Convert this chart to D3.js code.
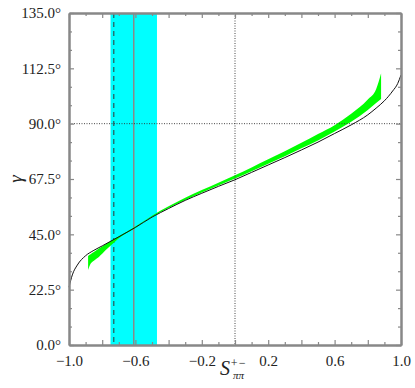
<!DOCTYPE html>
<html lang="en">
<head>
    <meta charset="UTF-8">
    <title>gamma vs S</title>
    <style>
        body { margin: 0; background: #fff; }
        svg text { font-family: "Liberation Serif", serif; fill: #222; }
        .axis path, .axis line { stroke: #888; }
        .axis path { stroke-width: 2; }
        .axis line { stroke-width: 1.2; }
    </style>
</head>
<body>
    <svg id="chart" width="415" height="388"></svg>

    <script src="https://cdn.jsdelivr.net/npm/d3@7"></script>
    <script>
        // theory curve gamma(S)
        var curveS = [-1, -0.98, -0.95, -0.9, -0.85, -0.8, -0.7, -0.6, -0.5, -0.4, -0.3, -0.2, -0.1, 0,
            0.1, 0.2, 0.3, 0.4, 0.5, 0.6, 0.7, 0.8, 0.85, 0.9, 0.95, 0.98, 1.0];
        var curveGamma = [23.5, 28.5, 32.5, 36.3, 38.5, 40.3, 44.0, 47.8, 52.0, 55.5, 58.8, 61.7, 64.5, 67.2,
            70.2, 73.2, 76.2, 79.3, 82.5, 86.0, 89.5, 93.6, 96.3, 99.3, 103.3, 106.3, 109.8];

        // green allowed region (lower / upper edge)
        var bandS = [-0.885, -0.87, -0.85, -0.82, -0.78, -0.74, -0.7, -0.6, -0.5, -0.4, -0.3, -0.2, -0.1, 0,
            0.1, 0.2, 0.3, 0.4, 0.5, 0.6, 0.7, 0.8, 0.85, 0.88];
        var bandLow = [30.5, 33.0, 34.3, 35.8, 38.5, 41.0, 43.4, 47.7, 52.1, 55.7, 59.0, 62.0, 64.9, 67.7,
            70.7, 73.7, 76.8, 80.0, 83.2, 86.8, 90.8, 95.6, 98.4, 100.0];
        var bandHigh = [36.2, 36.9, 37.8, 39.2, 41.0, 42.6, 44.2, 48.2, 52.6, 56.4, 59.9, 63.0, 66.0, 69.0,
            72.2, 75.5, 78.8, 82.2, 85.8, 89.4, 94.0, 99.8, 104.0, 110.5];

        // measurement: central value, 1 sigma range, other value
        var measCentral = -0.61;
        var measRange = [-0.75, -0.47];
        var measDashed = -0.73;

        var xMajor = [-1, -0.8, -0.6, -0.4, -0.2, 0, 0.2, 0.4, 0.6, 0.8, 1];
        var xMinor = [-0.9, -0.7, -0.5, -0.3, -0.1, 0.1, 0.3, 0.5, 0.7, 0.9];
        var xLabels = [-1, -0.6, -0.2, 0.2, 0.6, 1];
        var yMajor = [0, 22.5, 45, 67.5, 90, 112.5, 135];
        var yMinor = [7.5, 15, 30, 37.5, 52.5, 60, 75, 82.5, 97.5, 105, 120, 127.5];

        var margin = { top: 13, left: 69 },
            width = 332,
            height = 332;

        var svg = d3.select("#chart")
            .append("g")
            .attr("transform", "translate(" + margin.left + "," + margin.top + ")");

        var x = d3.scaleLinear().domain([-1, 1]).range([0, width]);
        var y = d3.scaleLinear().domain([0, 135]).range([height, 0]);

        // cyan 1 sigma band
        svg.append("rect")
            .attr("x", x(measRange[0]))
            .attr("y", 0)
            .attr("width", x(measRange[1]) - x(measRange[0]))
            .attr("height", height)
            .attr("fill", "#00ffff");

        svg.append("line")
            .attr("x1", x(measCentral)).attr("x2", x(measCentral))
            .attr("y1", 0).attr("y2", height)
            .attr("stroke", "#8a8a8a")
            .attr("stroke-width", 1.5);

        svg.append("line")
            .attr("x1", x(measDashed)).attr("x2", x(measDashed))
            .attr("y1", 0).attr("y2", height)
            .attr("stroke", "#333")
            .attr("stroke-width", 1)
            .attr("stroke-dasharray", "5,4");

        // green region
        var bandData = bandS.map((s, i) => [s, bandLow[i], bandHigh[i]]);
        svg.append("path")
            .datum(bandData)
            .attr("fill", "#00ff00")
            .attr("d", d3.area()
                .x(d => x(d[0]))
                .y0(d => y(d[1]))
                .y1(d => y(d[2]))
                .curve(d3.curveMonotoneX));

        // black curve
        var curveData = curveS.map((s, i) => [s, curveGamma[i]]);
        svg.append("path")
            .datum(curveData)
            .attr("fill", "none")
            .attr("stroke", "#111")
            .attr("stroke-width", 1)
            .attr("d", d3.line()
                .x(d => x(d[0]))
                .y(d => y(d[1]))
                .curve(d3.curveMonotoneX));

        // dotted guide lines
        svg.append("line")
            .attr("x1", 0).attr("x2", width)
            .attr("y1", y(90)).attr("y2", y(90))
            .attr("stroke", "#333").attr("stroke-width", 0.9)
            .attr("stroke-dasharray", "1,1.5");
        svg.append("line")
            .attr("x1", x(0)).attr("x2", x(0))
            .attr("y1", 0).attr("y2", height)
            .attr("stroke", "#333").attr("stroke-width", 0.9)
            .attr("stroke-dasharray", "1,1.5");

        // axes (ticks point inward)
        var fmtX = d => xLabels.some(v => Math.abs(v - d) < 1e-6) ? d3.format(".1f")(d) : "";
        var fmtY = d => d3.format(".1f")(d) + "\u00b0";

        function addAxis(axis, tr) {
            var g = svg.append("g").attr("class", "axis");
            if (tr) g.attr("transform", tr);
            g.call(axis);
            return g;
        }

        var bottom = addAxis(d3.axisBottom(x).tickValues(xMajor).tickSize(-5).tickSizeOuter(0).tickPadding(10).tickFormat(fmtX),
            "translate(0," + height + ")");
        addAxis(d3.axisBottom(x).tickValues(xMinor).tickSize(-3).tickSizeOuter(0).tickFormat(""), "translate(0," + height + ")");
        addAxis(d3.axisTop(x).tickValues(xMajor).tickSize(-5).tickSizeOuter(0).tickFormat(""));
        addAxis(d3.axisTop(x).tickValues(xMinor).tickSize(-3).tickSizeOuter(0).tickFormat(""));

        var left = addAxis(d3.axisLeft(y).tickValues(yMajor).tickSize(-5).tickSizeOuter(0).tickPadding(8).tickFormat(fmtY));
        addAxis(d3.axisLeft(y).tickValues(yMinor).tickSize(-3).tickSizeOuter(0).tickFormat(""));
        addAxis(d3.axisRight(y).tickValues(yMajor).tickSize(-5).tickSizeOuter(0).tickFormat(""), "translate(" + width + ",0)");
        addAxis(d3.axisRight(y).tickValues(yMinor).tickSize(-3).tickSizeOuter(0).tickFormat(""), "translate(" + width + ",0)");

        bottom.selectAll("text")
            .attr("font-size", "15px")
            .attr("fill", "#222");
        left.selectAll("text")
            .attr("font-size", "15px")
            .attr("fill", "#222");

        // axis titles
        var xt = svg.append("text")
            .attr("x", x(0) - 2)
            .attr("y", height + 30)
            .attr("text-anchor", "middle")
            .attr("font-size", "20px")
            .style("font-style", "italic");
        xt.append("tspan").text("S");
        xt.append("tspan").attr("font-size", "12px").attr("dy", "-8").text("+\u2212");
        xt.append("tspan").attr("font-size", "11px").attr("dx", "-13").attr("dy", "12").text("\u03c0\u03c0");

        svg.append("text")
            .attr("transform", "translate(-54," + (y(67.5)) + ") rotate(-90)")
            .attr("text-anchor", "middle")
            .attr("dy", "0.35em")
            .attr("font-size", "19px")
            .style("font-style", "italic")
            .text("\u03b3");
    </script>
</body>
</html>
